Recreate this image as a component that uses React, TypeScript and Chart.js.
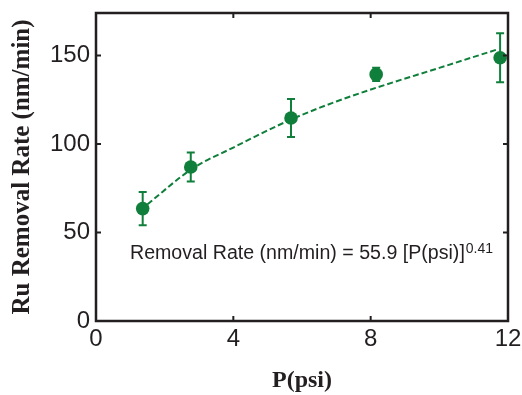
import React, { useEffect, useRef } from "react";
import { Chart, registerables } from "chart.js";

Chart.register(...registerables);

const pressure = [1.36, 2.76, 5.68, 8.16, 11.77];
const rate = [63.5, 87, 114.7, 139.3, 148.7];
const rateErr = [9.4, 8.2, 10.7, 3.7, 13.8];

const fitX = [1.5, 2.8, 4.0, 5.7, 7.0, 8.2, 10.0, 11.7];
const fitY = [66, 86, 98, 114, 124, 132, 143, 153.5];

const xTicks = [0, 4, 8, 12];
const yTicks = [0, 50, 100, 150];

const GREEN = "#0f7f3b";
const INK = "#231f20";

const frameAndBars = {
  id: "frameAndBars",
  afterDatasetsDraw(chart: any) {
    const { ctx, chartArea, scales } = chart;
    const xs = scales.x;
    const ys = scales.y;
    ctx.save();
    // error bars
    ctx.strokeStyle = GREEN;
    ctx.lineWidth = 2;
    pressure.forEach((p, i) => {
      const px = xs.getPixelForValue(p);
      const top = ys.getPixelForValue(rate[i] + rateErr[i]);
      const bot = ys.getPixelForValue(rate[i] - rateErr[i]);
      ctx.beginPath();
      ctx.moveTo(px, top);
      ctx.lineTo(px, bot);
      ctx.moveTo(px - 4, top);
      ctx.lineTo(px + 4, top);
      ctx.moveTo(px - 4, bot);
      ctx.lineTo(px + 4, bot);
      ctx.stroke();
    });
    // frame
    ctx.strokeStyle = INK;
    ctx.lineWidth = 2.5;
    ctx.strokeRect(chartArea.left, chartArea.top, chartArea.right - chartArea.left, chartArea.bottom - chartArea.top);
    // inner ticks
    ctx.lineWidth = 2;
    const tl = 5;
    xTicks.forEach((v) => {
      const px = xs.getPixelForValue(v);
      ctx.beginPath();
      ctx.moveTo(px, chartArea.bottom);
      ctx.lineTo(px, chartArea.bottom - tl);
      ctx.moveTo(px, chartArea.top);
      ctx.lineTo(px, chartArea.top + tl);
      ctx.stroke();
    });
    yTicks.forEach((v) => {
      const py = ys.getPixelForValue(v);
      ctx.beginPath();
      ctx.moveTo(chartArea.left, py);
      ctx.lineTo(chartArea.left + tl, py);
      ctx.moveTo(chartArea.right, py);
      ctx.lineTo(chartArea.right - tl, py);
      ctx.stroke();
    });
    // annotation
    const ax = xs.getPixelForValue(0.99);
    const ay = ys.getPixelForValue(35.1);
    ctx.fillStyle = INK;
    ctx.textBaseline = "alphabetic";
    ctx.textAlign = "left";
    ctx.font = "19.6px 'Liberation Sans', Arial, sans-serif";
    const main = "Removal Rate (nm/min) = 55.9 [P(psi)]";
    ctx.fillText(main, ax, ay);
    const w = ctx.measureText(main).width;
    ctx.font = "14px 'Liberation Sans', Arial, sans-serif";
    ctx.fillText("0.41", ax + w + 1, ay - 6);
    ctx.restore();
  },
};

export default function App() {
  const ref = useRef<HTMLCanvasElement>(null);
  useEffect(() => {
    if (!ref.current) return;
    const chart = new Chart(ref.current, {
      type: "scatter",
      data: {
        datasets: [
          {
            label: "fit",
            data: fitX.map((x, i) => ({ x, y: fitY[i] })),
            showLine: true,
            borderColor: GREEN,
            borderWidth: 2,
            borderDash: [6, 3],
            pointRadius: 0,
            cubicInterpolationMode: "monotone",
            order: 2,
          },
          {
            label: "data",
            data: pressure.map((x, i) => ({ x, y: rate[i] })),
            backgroundColor: GREEN,
            borderColor: GREEN,
            pointRadius: 6.8,
            pointBorderWidth: 0,
            order: 1,
          },
        ],
      },
      options: {
        animation: false,
        responsive: false,
        devicePixelRatio: 1,
        layout: { padding: { top: 13, right: 14, left: 0, bottom: 0 } },
        plugins: { legend: { display: false }, tooltip: { enabled: false } },
        scales: {
          x: {
            type: "linear",
            min: 0,
            max: 12,
            afterBuildTicks: (s: any) => {
              s.ticks = xTicks.map((v) => ({ value: v }));
            },
            afterFit: (s: any) => {
              s.height = 74;
              s.paddingLeft = 0;
              s.paddingRight = 0;
            },
            grid: { display: false, drawTicks: false },
            border: { display: false },
            ticks: {
              padding: 4,
              color: INK,
              font: { family: "'Liberation Sans', Arial, sans-serif", size: 24 },
              maxRotation: 0,
            },
            title: {
              display: true,
              text: "P(psi)",
              color: INK,
              padding: { top: 0, bottom: 0 },
              font: { family: "'Liberation Serif', 'Times New Roman', serif", size: 24, weight: "bold" },
            },
          },
          y: {
            type: "linear",
            min: 0,
            max: 174,
            afterBuildTicks: (s: any) => {
              s.ticks = yTicks.map((v) => ({ value: v }));
            },
            afterFit: (s: any) => {
              s.width = 96;
              s.paddingTop = 0;
              s.paddingBottom = 0;
            },
            grid: { display: false, drawTicks: false },
            border: { display: false },
            ticks: {
              padding: 6,
              color: INK,
              font: { family: "'Liberation Sans', Arial, sans-serif", size: 24 },
            },
            title: {
              display: true,
              text: "Ru Removal Rate (nm/min)",
              color: INK,
              padding: { top: 8, bottom: 0 },
              font: { family: "'Liberation Serif', 'Times New Roman', serif", size: 25, weight: "bold" },
            },
          },
        },
      },
      plugins: [frameAndBars],
    });
    return () => chart.destroy();
  }, []);
  return (
    <div style={{ position: "fixed", left: 0, top: 0, width: 522, height: 395, background: "#fff" }}>
      <canvas ref={ref} width={522} height={395} />
    </div>
  );
}
